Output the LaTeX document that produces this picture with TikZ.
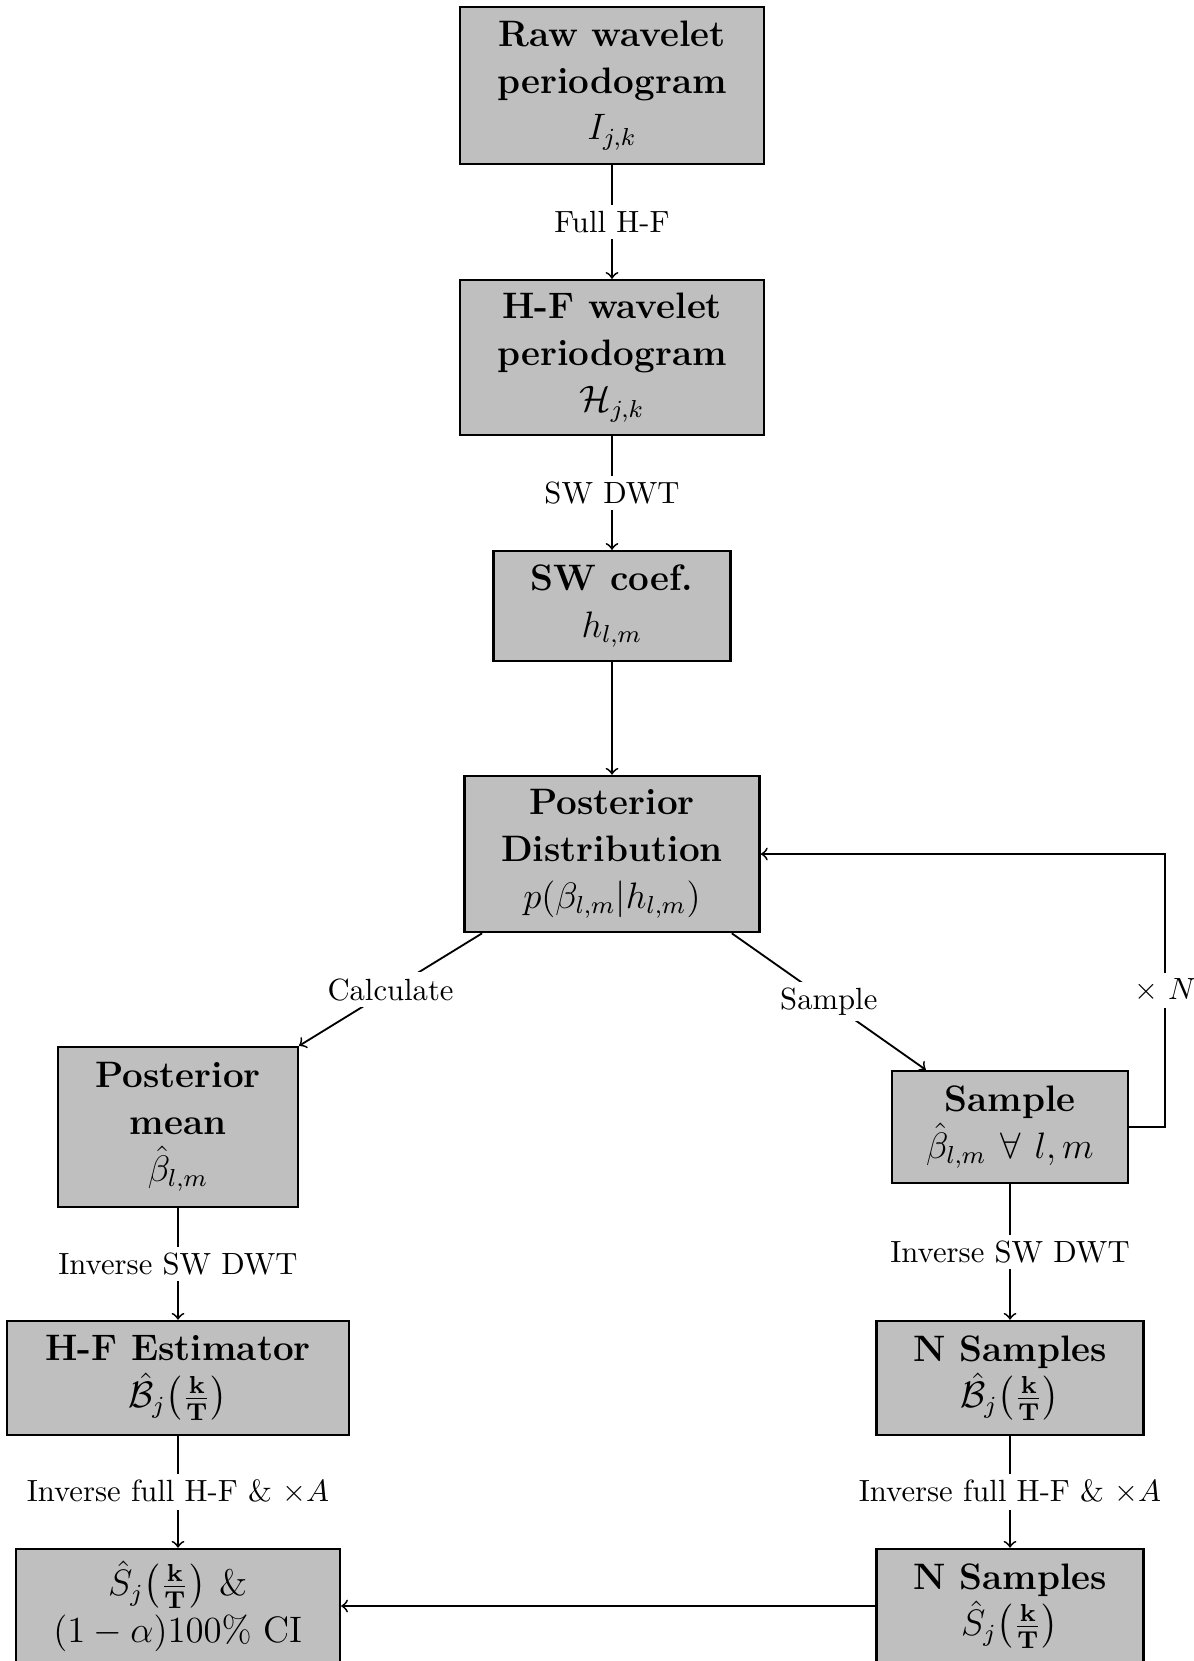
\documentclass[tikz,border=0pt]{standalone}
\usepackage{amsmath,amssymb}
\usepackage{xcolor}
\usepackage{tikz}

\begin{document}
\begin{tikzpicture}[x=0.326pt,y=-0.326pt,
    box/.style={draw,thick,fill=lightgray,align=center,inner ysep=2pt,
        font=\fontsize{12}{15.2}\selectfont\bfseries},
    lbl/.style={fill=white,inner sep=2pt},
    arr/.style={->,semithick}]
    % Marco de la figura
    \useasboundingbox (0,0) rectangle (1194,1661);
    \clip (0,0) rectangle (1194,1661);

    % Columna central
    \node[box,minimum width=99.1pt,minimum height=51.2pt] (raw) at (612,85.5)
        {Raw wavelet\\periodogram\\$I_{j,k}$};
    \node[box,minimum width=99.1pt,minimum height=50.5pt] (hf) at (612,357.5)
        {H-F wavelet\\periodogram\\$\mathcal{H}_{j,k}$};
    \node[box,minimum width=77.2pt,minimum height=35.8pt] (swc) at (612,606)
        {SW coef.\\$h_{l,m}$};
    \node[box,minimum width=96.3pt,minimum height=50.9pt] (post) at (612,854)
        {Posterior\\Distribution\\$p(\beta_{l,m}|h_{l,m})$};

    % Rama izquierda
    \node[box,minimum width=78.1pt,minimum height=52.1pt] (pmean) at (178,1127)
        {Posterior\\mean\\$\hat{\beta}_{l,m}$};
    \node[box,minimum width=111.5pt,minimum height=37.2pt] (hfest) at (178,1378)
        {H-F Estimator\\$\hat{\mathcal{B}}_j{\left(\frac{\mathbf{k}}{\mathbf{T}}\right)}$};
    \node[box,minimum width=105.6pt,minimum height=37.2pt] (sci) at (178,1606)
        {$\hat{S}_j{\left(\frac{\mathbf{k}}{\mathbf{T}}\right)}$ \mdseries\&\\\mdseries$(1-\alpha)100\%$ CI};

    % Rama derecha
    \node[box,minimum width=76.9pt,minimum height=36.5pt] (samp) at (1010,1127)
        {Sample\\$\hat{\beta}_{l,m}\ \forall\ l,m$};
    \node[box,minimum width=87pt,minimum height=37.2pt] (nsampB) at (1010,1378)
        {N Samples\\$\hat{\mathcal{B}}_j{\left(\frac{\mathbf{k}}{\mathbf{T}}\right)}$};
    \node[box,minimum width=87pt,minimum height=37.2pt] (nsampS) at (1010,1606)
        {N Samples\\$\hat{S}_j{\left(\frac{\mathbf{k}}{\mathbf{T}}\right)}$};

    % Flechas
    \draw[arr] (raw) -- (hf) node[midway,lbl] {Full H-F};
    \draw[arr] (hf) -- (swc) node[midway,lbl] {SW DWT};
    \draw[arr] (swc) -- (post);
    \draw[arr] ([xshift=6.2pt]post.south west) -- (pmean.north east) node[midway,lbl] {Calculate};
    \draw[arr] ([xshift=-9.5pt]post.south east) -- ([xshift=11.4pt]samp.north west) node[midway,lbl] {Sample};
    \draw[arr] (samp.east) -- ++(36,0) |- (post.east) node[pos=0.25,lbl] {$\times$ $N$};
    \draw[arr] (pmean) -- (hfest) node[midway,lbl] {Inverse SW DWT};
    \draw[arr] (samp) -- (nsampB) node[midway,lbl] {Inverse SW DWT};
    \draw[arr] (hfest) -- (sci) node[midway,lbl] {Inverse full H-F \& $\times A$};
    \draw[arr] (nsampB) -- (nsampS) node[midway,lbl] {Inverse full H-F \& $\times A$};
    \draw[arr] (nsampS) -- (sci);
\end{tikzpicture}
\end{document}
